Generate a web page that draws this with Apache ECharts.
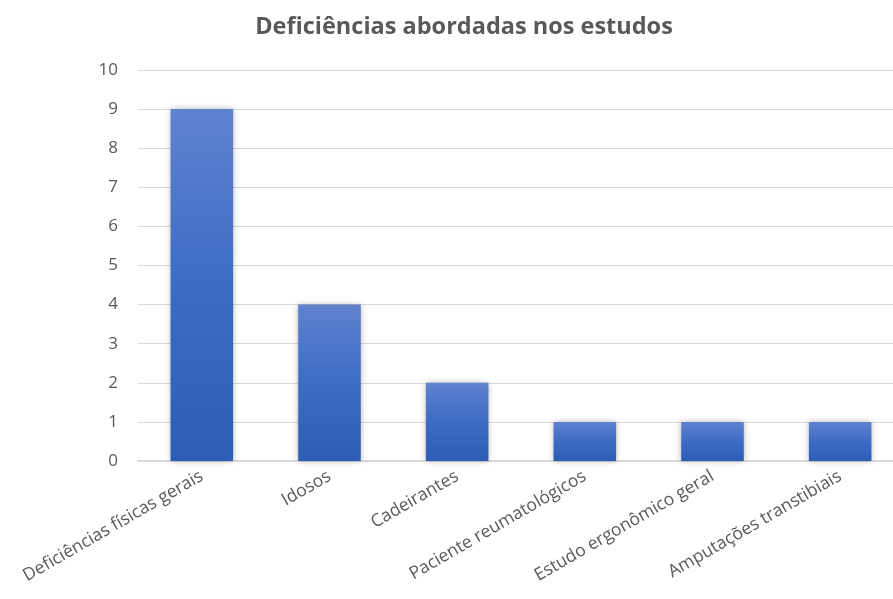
<!DOCTYPE html>
<html><head><meta charset="utf-8">
<script src="https://cdn.jsdelivr.net/npm/echarts@6/dist/echarts.min.js"></script>
<style>html,body{margin:0;padding:0;background:#fff}#c{width:893px;height:599px}</style>
</head><body><div id="c"></div>
<script>
const categories = ["Deficiências físicas gerais","Idosos","Cadeirantes","Paciente reumatológicos","Estudo ergonômico geral","Amputações transtibiais"];
const values = [9,4,2,1,1,1];
const yTicks = [0,1,2,3,4,5,6,7,8,9,10];
const chart = echarts.init(document.getElementById('c'));
chart.setOption({
  animation:false,
  title:{text:"Deficiências abordadas nos estudos",left:459,top:10,textAlign:'center',
    textStyle:{fontFamily:"Open Sans",fontSize:23.5,fontWeight:'bold',color:'#595959'}},
  grid:{left:138,width:766,top:70,height:391,containLabel:false,outerBoundsMode:'none'},
  xAxis:{type:'category',data:categories,
    axisLine:{lineStyle:{color:'#d9d9d9',width:2}},axisTick:{show:false},
    axisLabel:{rotate:30,interval:0,margin:14,fontFamily:"Open Sans",fontSize:17.5,color:'#595959'}},
  yAxis:{type:'value',min:yTicks[0],max:yTicks[yTicks.length-1],interval:1,
    axisLine:{show:false},axisTick:{show:false},
    splitLine:{lineStyle:{color:'#d9d9d9',width:1}},
    axisLabel:{margin:20,fontFamily:"Open Sans",fontSize:17,color:'#595959'}},
  series:[{type:'bar',data:values,barWidth:'49%',
    itemStyle:{color:new echarts.graphic.LinearGradient(0,0,0,1,[{offset:0,color:'#5f82cd'},{offset:0.5,color:'#3c6cc6'},{offset:1,color:'#2d5db7'}]),
      shadowColor:'rgba(0,0,0,0.3)',shadowBlur:6,shadowOffsetX:0,shadowOffsetY:0}}]
});
</script></body></html>
